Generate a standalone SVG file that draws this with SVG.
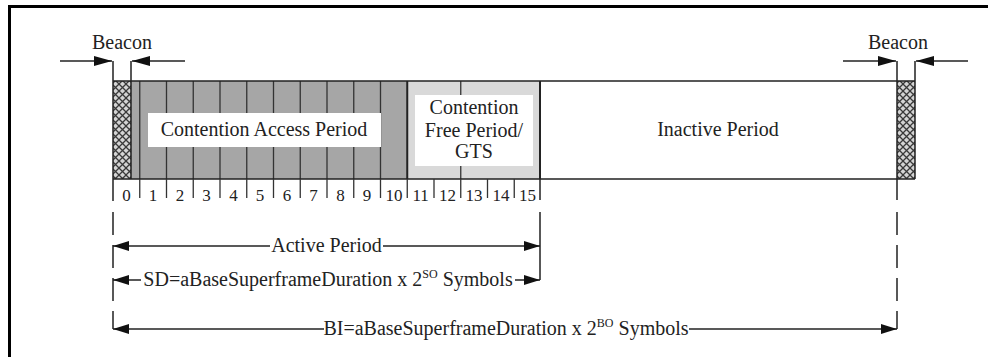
<svg xmlns="http://www.w3.org/2000/svg" width="988" height="357" viewBox="0 0 988 357" font-family="'Liberation Serif', 'DejaVu Serif', 'Times New Roman', serif">
  <defs>
    <style>
      text { font-family: "Liberation Serif", "DejaVu Serif", "Times New Roman", serif; fill: #222; }
      .lbl { font-size: 20px; }
      .num { font-size: 17px; text-anchor: middle; }
      .mid { text-anchor: middle; }
      .ln { stroke: #222; stroke-width: 1.5; fill: none; }
      .thin { stroke: #333; stroke-width: 1.3; fill: none; }
      .dash { stroke: #222; stroke-width: 1.5; fill: none; stroke-dasharray: 23 10; }
      .arr { stroke: #222; stroke-width: 1.5; fill: none; marker-end: url(#ah); }
      .arrs { stroke: #222; stroke-width: 1.5; fill: none; marker-start: url(#ah); }
    </style>
    <marker id="ah" viewBox="0 0 16 10" refX="16" refY="5" markerWidth="16" markerHeight="10" markerUnits="userSpaceOnUse" orient="auto-start-reverse">
      <path d="M0,0 L16,5 L0,10 z" fill="#111"/>
    </marker>
    <marker id="ahb" viewBox="0 0 18 10" refX="18" refY="5" markerWidth="18" markerHeight="10" markerUnits="userSpaceOnUse" orient="auto">
      <path d="M0,0 L18,5 L0,10 z" fill="#111"/>
    </marker>
    <pattern id="hatch" width="7" height="7" patternUnits="userSpaceOnUse">
      <rect width="7" height="7" fill="#d4d4d4"/>
      <path d="M0,0 L7,7 M7,0 L0,7" stroke="#3a3a3a" stroke-width="1.3"/>
    </pattern>
  </defs>

  <rect width="988" height="357" fill="#fff"/>

  <!-- outer frame (top and left edges) -->
  <path d="M8,6.5 H988 M9.5,5 V357" stroke="#000" stroke-width="3" fill="none"/>

  <!-- superframe bar -->
  <g id="beacon-left">
    <rect x="113" y="81" width="18" height="98" fill="url(#hatch)"/>
    <text class="lbl mid" x="122" y="49">Beacon</text>
  </g>

  <g id="contention-access-period">
    <rect x="131" y="81" width="276" height="98" fill="#a6a6a6"/>
    <path class="thin" d="M139.75,81 V179 M166.5,81 V179 M193.25,81 V179 M220,81 V179 M246.75,81 V179 M273.5,81 V179 M300.25,81 V179 M327,81 V179 M353.75,81 V179 M380.5,81 V179"/>
    <rect x="148" y="113" width="233" height="34" fill="#fff"/>
    <text class="lbl mid" x="264" y="136">Contention Access Period</text>
  </g>

  <g id="contention-free-period">
    <rect x="407" y="81" width="133" height="98" fill="#d9d9d9"/>
    <path class="thin" d="M460.75,81 V179"/>
    <rect x="415" y="95" width="118" height="71" fill="#fff"/>
    <text class="lbl mid" x="474" y="114">Contention</text>
    <text class="lbl mid" x="474" y="137">Free Period/</text>
    <text class="lbl mid" x="474" y="158">GTS</text>
  </g>

  <g id="inactive-period">
    <rect x="540" y="81" width="357" height="98" fill="#fff"/>
    <text class="lbl mid" x="718" y="136">Inactive Period</text>
  </g>

  <g id="beacon-right">
    <rect x="897" y="81" width="18" height="98" fill="url(#hatch)"/>
    <text class="lbl mid" x="898" y="49">Beacon</text>
  </g>

  <!-- bar outline and period boundaries -->
  <g id="bar-outline">
    <path class="ln" d="M113,81 H915 M113,179 H915"/>
    <path d="M407.25,81 V179 M540,81 V179" stroke="#222" stroke-width="2" fill="none"/>
    <path class="ln" d="M915,81 V179"/>
  </g>

  <!-- slot numbers -->
  <g id="slots">
    <path class="thin" d="M139.75,179 V198 M166.5,179 V198 M193.25,179 V198 M220,179 V198 M246.75,179 V198 M273.5,179 V198 M300.25,179 V198 M327,179 V198 M353.75,179 V198 M380.5,179 V198 M407.25,179 V198 M434,179 V198 M460.75,179 V198 M487.5,179 V198 M514.25,179 V198"/>
    <text class="num" x="126.4" y="201">0</text>
    <text class="num" x="153.1" y="201">1</text>
    <text class="num" x="179.9" y="201">2</text>
    <text class="num" x="206.6" y="201">3</text>
    <text class="num" x="233.4" y="201">4</text>
    <text class="num" x="260.1" y="201">5</text>
    <text class="num" x="286.9" y="201">6</text>
    <text class="num" x="313.6" y="201">7</text>
    <text class="num" x="340.4" y="201">8</text>
    <text class="num" x="367.1" y="201">9</text>
    <text class="num" x="393.9" y="201">10</text>
    <text class="num" x="420.6" y="201">11</text>
    <text class="num" x="447.4" y="201">12</text>
    <text class="num" x="474.1" y="201">13</text>
    <text class="num" x="500.9" y="201">14</text>
    <text class="num" x="527.6" y="201">15</text>
  </g>

  <!-- connectors: beacon markers, extension lines and duration arrows -->
  <g id="connectors">
    <!-- beacon pointers -->
    <path d="M60,61 H112" stroke="#222" stroke-width="1.5" fill="none" marker-end="url(#ahb)"/>
    <path d="M185,61 H132" stroke="#222" stroke-width="1.5" fill="none" marker-end="url(#ahb)"/>
    <path d="M843,61 H896" stroke="#222" stroke-width="1.5" fill="none" marker-end="url(#ahb)"/>
    <path d="M968,61 H916" stroke="#222" stroke-width="1.5" fill="none" marker-end="url(#ahb)"/>

    <!-- extension lines -->
    <path class="ln" d="M113,61 V201 M131,61 V179 M897,61 V200 M915,61 V81 M540,179 V200 M540,212 V280"/>
    <path class="dash" d="M113,212 V329 M897,212 V329"/>

    <!-- Active Period -->
    <path class="arrs" d="M113,246 H270"/>
    <path class="arr" d="M383,246 H540"/>
    <text class="lbl mid" x="326.5" y="252">Active Period</text>

    <!-- Superframe duration -->
    <path class="arrs" d="M113,280 H141"/>
    <path class="arr" d="M515,280 H540"/>
    <text class="lbl mid" x="328" y="286">SD=aBaseSuperframeDuration x 2<tspan dy="-8" font-size="12">SO</tspan><tspan dy="8"> Symbols</tspan></text>

    <!-- Beacon interval -->
    <path class="arrs" d="M113,329 H324"/>
    <path class="arr" d="M689,329 H897"/>
    <text class="lbl mid" x="506" y="335">BI=aBaseSuperframeDuration x 2<tspan dy="-8" font-size="12">BO</tspan><tspan dy="8"> Symbols</tspan></text>
  </g>
</svg>
